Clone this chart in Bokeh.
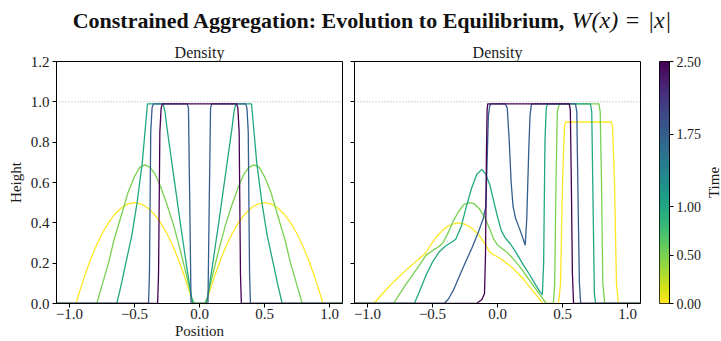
import numpy as np
from bokeh.plotting import figure
from bokeh.models import Range1d, FixedTicker, Span, Label, LinearColorMapper, ColumnDataSource
from bokeh.layouts import row, column
from bokeh.palettes import Viridis256
from bokeh.transform import linear_cmap
from bokeh.embed import file_html
from bokeh.resources import INLINE

FONT = "Liberation Serif"

# ---------------- data ----------------
times = [0.0, 0.5, 1.0, 1.75, 2.5]
ref_level = 1.0

x_ticks = [-1.0, -0.5, 0.0, 0.5, 1.0]
x_tick_labels = ["\u22121.0", "\u22120.5", "0.0", "0.5", "1.0"]
y_ticks = [0.0, 0.2, 0.4, 0.6, 0.8, 1.0, 1.2]
y_tick_labels = ["0.0", "0.2", "0.4", "0.6", "0.8", "1.0", "1.2"]
cb_ticks = [0.0, 0.5, 1.0, 1.75, 2.5]
cb_tick_labels = ["0.00", "0.50", "1.00", "1.75", "2.50"]

# Left panel (symmetric initial data)
L_x0 = [-1.10, -0.95, -0.92, -0.88, -0.84, -0.80, -0.75, -0.70, -0.65, -0.60, -0.55, -0.50, -0.45, -0.40,
        -0.35, -0.30, -0.25, -0.20, -0.16, -0.12, -0.08, -0.05, 0.05, 0.08, 0.12, 0.16, 0.20, 0.25, 0.30,
        0.35, 0.40, 0.45, 0.50, 0.55, 0.60, 0.65, 0.70, 0.75, 0.80, 0.84, 0.88, 0.92, 0.95, 1.10]
L_y0 = [0.0, 0.0, 0.064, 0.143, 0.214, 0.278, 0.346, 0.401, 0.444, 0.475, 0.494, 0.500, 0.494, 0.475,
        0.444, 0.401, 0.346, 0.278, 0.214, 0.143, 0.064, 0.0, 0.0, 0.064, 0.143, 0.214, 0.278, 0.346, 0.401,
        0.444, 0.475, 0.494, 0.500, 0.494, 0.475, 0.444, 0.401, 0.346, 0.278, 0.214, 0.143, 0.064, 0.0, 0.0]

L_x1 = [-1.10, -0.79, -0.75, -0.70, -0.66, -0.60, -0.55, -0.50, -0.46, -0.42, -0.38, -0.34, -0.30, -0.25,
        -0.20, -0.15, -0.10, -0.06, -0.04, 0.04, 0.06, 0.10, 0.15, 0.20, 0.25, 0.30, 0.34, 0.38, 0.42,
        0.46, 0.50, 0.55, 0.60, 0.66, 0.70, 0.75, 0.79, 1.10]
L_y1 = [0.0, 0.0, 0.09, 0.20, 0.31, 0.44, 0.55, 0.63, 0.675, 0.687, 0.675, 0.64, 0.58, 0.49,
        0.39, 0.27, 0.14, 0.03, 0.0, 0.0, 0.03, 0.14, 0.27, 0.39, 0.49, 0.58, 0.64, 0.675, 0.687,
        0.675, 0.63, 0.55, 0.44, 0.31, 0.20, 0.09, 0.0, 0.0]

L_x2 = [-1.10, -0.636, -0.60, -0.55, -0.52, -0.48, -0.44, -0.41, -0.40, -0.28, -0.265, -0.25, -0.20, -0.15,
        -0.10, -0.065, -0.05, 0.05, 0.065, 0.10, 0.15, 0.20, 0.25, 0.265, 0.28, 0.40, 0.41, 0.44, 0.48,
        0.52, 0.55, 0.60, 0.636, 1.10]
L_y2 = [0.0, 0.0, 0.10, 0.25, 0.34, 0.50, 0.70, 0.92, 0.99, 0.99, 0.95, 0.87, 0.64, 0.41,
        0.19, 0.04, 0.0, 0.0, 0.04, 0.19, 0.41, 0.64, 0.87, 0.95, 0.99, 0.99, 0.92, 0.70, 0.50,
        0.34, 0.25, 0.10, 0.0, 0.0]

L_x3 = [-1.10, -0.392, -0.385, -0.375, -0.365, -0.355, -0.095, -0.085, -0.075, -0.065, 0.065, 0.075,
        0.085, 0.095, 0.355, 0.365, 0.375, 0.385, 0.392, 1.10]
L_y3 = [0.0, 0.0, 0.15, 0.85, 0.97, 0.99, 0.99, 0.97, 0.50, 0.0, 0.0, 0.50,
        0.97, 0.99, 0.99, 0.97, 0.85, 0.15, 0.0, 0.0]

L_x4 = [-1.10, -0.322, -0.315, -0.305, -0.295, -0.285, 0.285, 0.295, 0.305, 0.315, 0.322, 1.10]
L_y4 = [0.0, 0.0, 0.15, 0.85, 0.97, 0.99, 0.99, 0.97, 0.85, 0.15, 0.0, 0.0]

# Right panel (asymmetric initial data)
R_x0 = [-1.10, -0.95, -0.90, -0.85, -0.80, -0.75, -0.70, -0.65, -0.60, -0.556, -0.52, -0.47, -0.42, -0.37,
        -0.31, -0.25, -0.20, -0.15, -0.10, -0.06, -0.04, 0.0, 0.05, 0.10, 0.15, 0.20, 0.25, 0.30, 0.35,
        0.47, 0.485, 0.50, 0.515, 0.525, 0.875, 0.885, 0.90, 0.915, 0.93, 1.10]
R_y0 = [0.0, 0.0, 0.037, 0.073, 0.107, 0.138, 0.168, 0.196, 0.223, 0.248, 0.285, 0.33, 0.365, 0.388,
        0.40, 0.393, 0.375, 0.345, 0.30, 0.255, 0.245, 0.232, 0.21, 0.185, 0.155, 0.12, 0.08, 0.04, 0.0,
        0.0, 0.10, 0.60, 0.88, 0.90, 0.90, 0.88, 0.60, 0.10, 0.0, 0.0]

R_x1 = [-1.10, -0.80, -0.75, -0.70, -0.65, -0.60, -0.55, -0.50, -0.45, -0.42, -0.38, -0.34, -0.30, -0.26,
        -0.22, -0.18, -0.14, -0.10, -0.06, -0.03, 0.0, 0.03, 0.08, 0.13, 0.18, 0.23, 0.28, 0.33, 0.37,
        0.38, 0.43, 0.44, 0.45, 0.46, 0.475, 0.78, 0.79, 0.80, 0.81, 0.825, 1.10]
R_y1 = [0.0, 0.0, 0.05, 0.10, 0.145, 0.19, 0.24, 0.262, 0.283, 0.30, 0.35, 0.41, 0.455, 0.49,
        0.50, 0.495, 0.47, 0.43, 0.37, 0.32, 0.29, 0.275, 0.25, 0.215, 0.175, 0.13, 0.085, 0.04, 0.005,
        0.0, 0.0, 0.10, 0.60, 0.95, 0.99, 0.99, 0.95, 0.60, 0.10, 0.0, 0.0]

R_x2 = [-1.10, -0.64, -0.60, -0.55, -0.50, -0.45, -0.40, -0.35, -0.32, -0.28, -0.24, -0.20, -0.16, -0.12,
        -0.09, -0.06, -0.03, 0.0, 0.03, 0.06, 0.10, 0.15, 0.20, 0.25, 0.30, 0.33, 0.345, 0.355, 0.365,
        0.375, 0.385, 0.715, 0.725, 0.735, 0.745, 0.755, 1.10]
R_y2 = [0.0, 0.0, 0.06, 0.14, 0.205, 0.255, 0.285, 0.305, 0.32, 0.38, 0.48, 0.57, 0.64, 0.665,
        0.64, 0.59, 0.51, 0.43, 0.36, 0.325, 0.295, 0.245, 0.19, 0.14, 0.085, 0.055, 0.045, 0.20, 0.80,
        0.97, 0.99, 0.99, 0.95, 0.50, 0.05, 0.0, 0.0]

R_x3 = [-1.10, -0.41, -0.38, -0.34, -0.30, -0.25, -0.20, -0.15, -0.11, -0.09, -0.08, -0.07, -0.06, -0.05,
        0.06, 0.075, 0.09, 0.105, 0.12, 0.14, 0.17, 0.20, 0.213, 0.225, 0.24, 0.25, 0.26, 0.27, 0.60,
        0.61, 0.62, 0.63, 0.64, 1.10]
R_y3 = [0.0, 0.0, 0.02, 0.065, 0.125, 0.20, 0.27, 0.35, 0.42, 0.48, 0.70, 0.93, 0.98, 0.99,
        0.99, 0.97, 0.81, 0.60, 0.48, 0.42, 0.37, 0.315, 0.289, 0.42, 0.75, 0.93, 0.985, 0.99, 0.99,
        0.95, 0.50, 0.10, 0.0, 0.0]

R_x4 = [-1.10, -0.17, -0.15, -0.12, -0.10, -0.092, -0.085, -0.08, -0.075, 0.552, 0.56, 0.568, 0.576,
        0.585, 1.10]
R_y4 = [0.0, 0.0, 0.005, 0.02, 0.05, 0.25, 0.75, 0.96, 0.99, 0.99, 0.96, 0.60, 0.15, 0.0, 0.0]

left_xs = [L_x0, L_x1, L_x2, L_x3, L_x4]
left_ys = [L_y0, L_y1, L_y2, L_y3, L_y4]
right_xs = [R_x0, R_x1, R_x2, R_x3, R_x4]
right_ys = [R_y0, R_y1, R_y2, R_y3, R_y4]

t_low, t_high = 0.0, 2.5
palette = tuple(reversed(Viridis256))

TITLE_H = 36
ROW_H = 305
TOP_B = 25
BOT_B = 38


def style_axis(ax, ticks, labels, show_labels=True, size="15px"):
    ax.ticker = FixedTicker(ticks=ticks)
    if show_labels:
        ax.major_label_overrides = {t: l for t, l in zip(ticks, labels)}
    else:
        ax.major_label_overrides = {t: "" for t in ticks}
        ax.major_label_standoff = 0
    ax.major_label_text_font = FONT
    ax.major_label_text_font_size = size
    ax.major_label_text_color = "#1a1a1a"
    ax.minor_tick_line_color = None
    ax.major_tick_in = 0
    ax.major_tick_out = 4
    ax.major_tick_line_color = "black"
    ax.axis_line_color = "black"
    ax.axis_label_text_font = FONT
    ax.axis_label_text_font_size = "15px"
    ax.axis_label_text_font_style = "normal"
    ax.axis_label_text_color = "#1a1a1a"


def make_panel(xs, ys, width, mbl, mbr, show_y):
    p = figure(width=width, height=ROW_H, x_range=Range1d(-1.1, 1.1), y_range=Range1d(0, 1.2),
               output_backend="svg", toolbar_location=None, title="Density",
               min_border_left=mbl, min_border_right=mbr, min_border_top=TOP_B, min_border_bottom=BOT_B)
    p.title.text_font = FONT
    p.title.text_font_size = "16px"
    p.title.text_font_style = "normal"
    p.title.text_color = "#1a1a1a"
    p.title.align = "center"
    p.title.standoff = 2
    p.grid.visible = False
    p.outline_line_color = "black"
    p.outline_line_alpha = 1.0
    p.outline_line_width = 1
    p.background_fill_color = "white"
    p.border_fill_color = "white"
    style_axis(p.xaxis[0], x_ticks, x_tick_labels)
    p.xaxis.major_label_standoff = 1
    style_axis(p.yaxis[0], y_ticks, y_tick_labels, show_labels=show_y)
    if show_y:
        p.yaxis.major_label_standoff = 3
    p.add_layout(Span(location=ref_level, dimension="width", line_color="#9a9a9a",
                      line_dash="1 2", line_width=0.9))
    src = ColumnDataSource(dict(xs=xs, ys=ys, t=times))
    p.multi_line("xs", "ys", source=src, line_width=1.3,
                 line_color=linear_cmap("t", palette, t_low, t_high))
    return p


p1 = make_panel(left_xs, left_ys, 348, 56, 6, True)
p1.xaxis.axis_label = "Position"
p1.xaxis.axis_label_standoff = 1
p1.yaxis.axis_label = "Height"
p1.yaxis.axis_label_standoff = 4

p2 = make_panel(right_xs, right_ys, 300, 6, 8, False)

# colorbar as a narrow figure
mapper = LinearColorMapper(palette=palette, low=t_low, high=t_high)
pc = figure(width=56, height=ROW_H, x_range=Range1d(0, 1), y_range=Range1d(t_low, t_high),
            output_backend="svg", toolbar_location=None, x_axis_location=None, y_axis_location="right",
            title=None,
            min_border_left=11, min_border_right=32, min_border_top=TOP_B, min_border_bottom=BOT_B)
grad = np.linspace(t_low, t_high, 256).reshape(256, 1)
pc.image(image=[grad], x=0, y=t_low, dw=1, dh=t_high - t_low, color_mapper=mapper)
pc.grid.visible = False
pc.outline_line_color = "black"
pc.outline_line_width = 1
style_axis(pc.yaxis[0], cb_ticks, cb_tick_labels, size="14px")
pc.yaxis.major_label_standoff = 3

# colorbar label strip ("Time", reading upward)
pl = figure(width=17, height=ROW_H, x_range=Range1d(0, 1), y_range=Range1d(0, 1),
            output_backend="svg", toolbar_location=None, x_axis_location=None, y_axis_location=None,
            title="Time", title_location="left",
            min_border_left=0, min_border_right=0, min_border_top=TOP_B, min_border_bottom=BOT_B)
pl.grid.visible = False
pl.outline_line_color = None
pl.title.text_font = FONT
pl.title.text_font_size = "15px"
pl.title.text_font_style = "normal"
pl.title.text_color = "#1a1a1a"
pl.title.align = "center"
pl.title.standoff = 0

# main title strip
pt = figure(width=721, height=TITLE_H, x_range=Range1d(0, 721), y_range=Range1d(0, TITLE_H),
            output_backend="svg", toolbar_location=None, x_axis_location=None, y_axis_location=None,
            title=None, min_border=0, min_border_left=0, min_border_right=0,
            min_border_top=0, min_border_bottom=0)
pt.grid.visible = False
pt.outline_line_color = None
title_y = 16.5
pt.add_layout(Label(x=565, y=title_y, text="Constrained Aggregation: Evolution to Equilibrium,",
                    text_align="right", text_baseline="alphabetic", text_font=FONT,
                    text_font_size="22px", text_font_style="bold", text_color="#111111"))
math_kw = dict(y=title_y, text_baseline="alphabetic", text_font=FONT, text_font_size="24px",
               text_color="#111111")
pt.add_layout(Label(x=571, text="W(x)", text_align="left", text_font_style="italic", **math_kw))
pt.add_layout(Label(x=632, text="=", text_align="center", text_font_style="normal", **math_kw))
pt.add_layout(Label(x=647, text="|x|", text_align="left", text_font_style="italic", **math_kw))

layout = column(pt, row(p1, p2, pc, pl, spacing=0), spacing=0)

open("out.html", "w").write(file_html(layout, INLINE))
